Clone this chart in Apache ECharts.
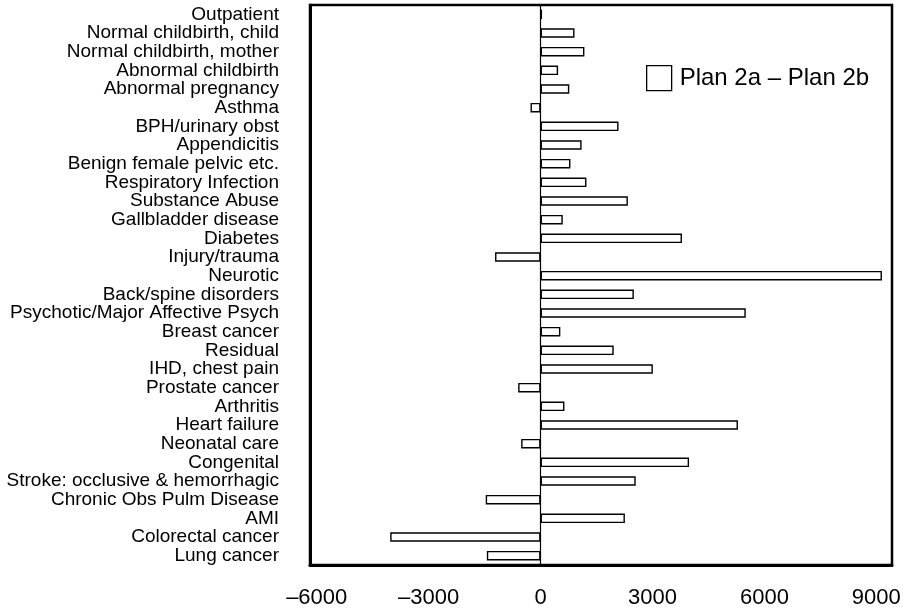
<!DOCTYPE html>
<html>
<head>
<meta charset="utf-8">
<script src="https://cdn.jsdelivr.net/npm/echarts@6/dist/echarts.min.js"></script>
<style>
  html, body { margin: 0; padding: 0; background: #fff; }
  #chart { width: 909px; height: 613px; }
</style>
</head>
<body>
<div id="chart"></div>
<script>
// Diagnostic groups, listed top to bottom
const categories = [
  'Outpatient',
  'Normal childbirth, child',
  'Normal childbirth, mother',
  'Abnormal childbirth',
  'Abnormal pregnancy',
  'Asthma',
  'BPH/urinary obst',
  'Appendicitis',
  'Benign female pelvic etc.',
  'Respiratory Infection',
  'Substance Abuse',
  'Gallbladder disease',
  'Diabetes',
  'Injury/trauma',
  'Neurotic',
  'Back/spine disorders',
  'Psychotic/Major Affective Psych',
  'Breast cancer',
  'Residual',
  'IHD, chest pain',
  'Prostate cancer',
  'Arthritis',
  'Heart failure',
  'Neonatal care',
  'Congenital',
  'Stroke: occlusive & hemorrhagic',
  'Chronic Obs Pulm Disease',
  'AMI',
  'Colorectal cancer',
  'Lung cancer'
];

// Difference between the two plans, per group
const planDiff = [
  40, 910, 1175, 470, 770, -270, 2090, 1100, 800, 1230,
  2340, 595, 3790, -1220, 9150, 2500, 5500, 530, 1960, 3010,
  -600, 640, 5290, -520, 3980, 2550, -1470, 2260, -4030, -1440
];

const seriesName = 'Plan 2a \u2013 Plan 2b';
const xTicks = [-6000, -3000, 0, 3000, 6000, 9000];

const font = '"Liberation Sans", Arial, Helvetica, sans-serif';

const chart = echarts.init(document.getElementById('chart'), null, { renderer: 'canvas' });

chart.setOption({
  animation: false,
  backgroundColor: '#ffffff',
  grid: {
    left: 310, right: 17, top: 5, bottom: 48,
    show: true,
    borderColor: '#000',
    borderWidth: 2.5,
    containLabel: false
  },
  legend: {
    show: true,
    left: 646,
    top: 65,
    padding: 0,
    orient: 'vertical',
    itemWidth: 25,
    itemHeight: 25,
    icon: 'rect',
    itemStyle: { color: '#fff', borderColor: '#000', borderWidth: 1.3 },
    textStyle: { fontFamily: font, fontSize: 24, color: '#000', padding: [0, 0, 0, 3] },
    data: [seriesName]
  },
  xAxis: {
    type: 'value',
    min: -6180,
    max: 9420,
    splitLine: { show: false },
    axisTick: { show: false },
    axisLine: { show: true, lineStyle: { color: '#000', width: 3 } },
    axisLabel: {
      customValues: xTicks,
      margin: 22,
      fontFamily: font,
      fontSize: 22,
      color: '#000',
      formatter: function (v) { return v < 0 ? '\u2013' + Math.abs(v) : String(v); }
    }
  },
  yAxis: {
    type: 'category',
    inverse: true,
    data: categories,
    axisTick: { show: false },
    axisLine: { show: true, onZero: false, lineStyle: { color: '#000', width: 3 } },
    axisLabel: {
      interval: 0,
      margin: 31,
      fontFamily: font,
      fontSize: 19,
      color: '#000'
    },
    splitLine: { show: false }
  },
  series: [{
    name: seriesName,
    type: 'bar',
    data: planDiff,
    barWidth: 9.5,
    itemStyle: { color: '#fff', borderColor: '#000', borderWidth: 1.4 },
    markLine: {
      silent: true,
      symbol: ['none', 'none'],
      label: { show: false },
      lineStyle: { color: '#000', width: 1.2, type: 'solid' },
      data: [{ xAxis: 0 }]
    }
  }]
});
</script>
</body>
</html>
